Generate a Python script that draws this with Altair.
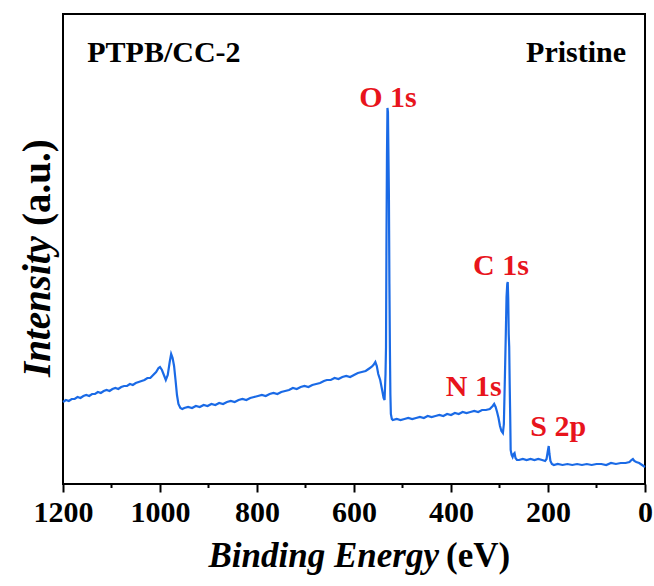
import altair as alt
import pandas as pd

# XPS survey spectrum of PTPB/CC-2 (pristine)
energy = [
    1200, 1194, 1188, 1182, 1176, 1170, 1164, 1158, 1152, 1146, 1140, 1134,
    1128, 1122, 1116, 1110, 1104, 1098, 1092, 1086, 1080, 1074, 1068, 1062,
    1056, 1050, 1044, 1038, 1032, 1026, 1020, 1014, 1008, 1003, 1000, 996,
    992, 988, 984, 980, 977, 974, 971, 968, 965, 962, 958, 954,
    950, 942, 934, 926, 918, 910, 902, 894, 886, 878, 870, 862,
    854, 846, 838, 830, 822, 814, 806, 798, 790, 782, 774, 766,
    758, 750, 742, 734, 726, 718, 710, 702, 694, 686, 678, 670,
    662, 656, 648, 640, 632, 624, 616, 608, 600, 592, 584, 576,
    570, 564, 560, 556, 553, 550, 546, 542, 539, 537, 535, 534,
    533, 532, 531, 530, 529, 528, 527, 526, 525, 524, 522, 520,
    512, 504, 496, 488, 480, 472, 464, 456, 448, 440, 432, 424,
    416, 408, 400, 392, 384, 376, 368, 360, 352, 344, 336, 328,
    320, 314, 311, 308, 305, 302, 299, 296, 293, 291, 289, 287,
    285.5, 284, 283, 282, 281, 280, 279, 278, 277, 275, 273, 271,
    269, 267, 264, 260, 252, 244, 236, 228, 220, 212, 206, 203,
    200, 198.5, 197, 195, 192, 188, 180, 170, 160, 150, 140, 130,
    120, 110, 100, 90, 80, 70, 60, 50, 40, 32, 28, 25,
    22, 18, 12, 6, 0,
]
intensity = [
    82, 84, 83, 85, 85, 87, 86, 88, 89, 88, 90, 90,
    92, 91, 93, 94, 93, 95, 96, 95, 97, 98, 98, 100,
    99, 101, 102, 103, 104, 106, 106, 109, 112, 116, 117, 114,
    109, 104, 109, 122, 130, 126, 118, 104, 89, 80, 76, 75,
    76, 77, 76, 78, 77, 79, 78, 80, 79, 81, 80, 82,
    83, 82, 84, 85, 84, 86, 87, 88, 89, 88, 90, 91,
    90, 92, 93, 94, 96, 95, 97, 98, 97, 99, 100, 101,
    103, 104, 104, 106, 105, 107, 108, 107, 109, 111, 112, 113,
    115, 117, 119, 122, 118, 110, 104, 94, 86, 84, 110, 137,
    250, 330, 376, 372, 330, 287, 200, 137, 90, 70, 65, 64,
    65, 64, 65, 66, 65, 66, 67, 66, 68, 67, 68, 69,
    68, 70, 69, 71, 70, 72, 71, 72, 73, 72, 74, 74,
    75, 78, 80, 77, 72, 66, 58, 53, 51, 60, 104, 150,
    187, 200, 202, 185, 150, 137, 100, 70, 34, 29, 27, 30,
    31, 26, 24, 24, 25, 24, 25, 24, 25, 24, 23, 25,
    34, 38, 30, 23, 20, 19, 20, 19, 20, 19, 20, 19,
    20, 19, 20, 20, 19, 21, 20, 21, 21, 22, 24, 25,
    23, 22, 21, 19, 17,
]

# Peak assignments and where their labels sit
peak_names = ["O 1s", "C 1s", "N 1s", "S 2p"]
peak_label_energy = [530, 297, 353, 179]
peak_label_level = [377, 209, 88, 48]

# Corner captions
caption_text = ["PTPB/CC-2", "Pristine"]
caption_energy = [1150, 39]
caption_level = [422, 422]
caption_align = ["left", "right"]

major_ticks = [0, 200, 400, 600, 800, 1000, 1200]
minor_ticks = [100, 300, 500, 700, 900, 1100]

W, H = 582, 470
SERIF = "Liberation Serif"

spectrum = pd.DataFrame({"E": energy, "I": intensity})
peaks = pd.DataFrame({"E": peak_label_energy, "I": peak_label_level, "name": peak_names})
captions = pd.DataFrame({"E": caption_energy, "I": caption_level,
                         "t": caption_text, "a": caption_align})
minor = pd.DataFrame({"E": minor_ticks})

x_scale = alt.Scale(domain=[0, 1200], reverse=True, nice=False)
y_scale = alt.Scale(domain=[0, 470], nice=False)

line = alt.Chart(spectrum).mark_line(color="#1a6ae6", strokeWidth=2.2).encode(
    x=alt.X("E:Q", scale=x_scale,
            axis=alt.Axis(values=major_ticks, format="d", tickSize=8, tickWidth=2,
                          tickColor="black", labelFont=SERIF, labelFontWeight="bold",
                          labelFontSize=30, labelColor="black", labelPadding=5,
                          labelFlush=False, labelOverlap=False, domain=False,
                          grid=False, title=None)),
    y=alt.Y("I:Q", scale=y_scale, axis=None),
)

peak_text = alt.Chart(peaks).mark_text(
    font=SERIF, fontWeight="bold", fontSize=30, color="#e8141c",
    align="center", baseline="alphabetic",
).encode(x="E:Q", y="I:Q", text="name:N")

cap_left = alt.Chart(captions[captions.a == "left"]).mark_text(
    font=SERIF, fontWeight="bold", fontSize=30, color="black",
    align="left", baseline="alphabetic",
).encode(x="E:Q", y="I:Q", text="t:N")

cap_right = alt.Chart(captions[captions.a == "right"]).mark_text(
    font=SERIF, fontWeight="bold", fontSize=30, color="black",
    align="right", baseline="alphabetic",
).encode(x="E:Q", y="I:Q", text="t:N")

minor_rules = alt.Chart(minor).mark_rule(color="black", strokeWidth=2).encode(
    x="E:Q", y=alt.value(H), y2=alt.value(H + 4),
)

# Axis titles: italic quantity name followed by upright unit
x_title_a = alt.Chart(pd.DataFrame({"t": ["Binding Energy"]})).mark_text(
    font=SERIF, fontWeight="bold", fontStyle="italic", fontSize=35, color="black",
    align="right", baseline="alphabetic",
).encode(x=alt.value(376), y=alt.value(553), text="t:N")
x_title_b = alt.Chart(pd.DataFrame({"t": ["(eV)"]})).mark_text(
    font=SERIF, fontWeight="bold", fontSize=35, color="black",
    align="left", baseline="alphabetic",
).encode(x=alt.value(383), y=alt.value(553), text="t:N")

y_title_a = alt.Chart(pd.DataFrame({"t": ["Intensity"]})).mark_text(
    font=SERIF, fontWeight="bold", fontStyle="italic", fontSize=39, color="black",
    align="left", baseline="alphabetic", angle=270,
).encode(x=alt.value(-13), y=alt.value(363), text="t:N")
y_title_b = alt.Chart(pd.DataFrame({"t": ["(a.u.)"]})).mark_text(
    font=SERIF, fontWeight="bold", fontSize=39, color="black",
    align="left", baseline="alphabetic", angle=270,
).encode(x=alt.value(-13), y=alt.value(212), text="t:N")

chart = alt.layer(
    line, peak_text, cap_left, cap_right, minor_rules,
    x_title_a, x_title_b, y_title_a, y_title_b,
).properties(
    width=W, height=H,
    autosize=alt.AutoSizeParams(type="none"),
    padding={"left": 63, "top": 14, "right": 9, "bottom": 102},
    background="white",
).configure_view(stroke="black", strokeWidth=2)

chart.save("out.html", embed_options={"renderer": "svg", "actions": False})
